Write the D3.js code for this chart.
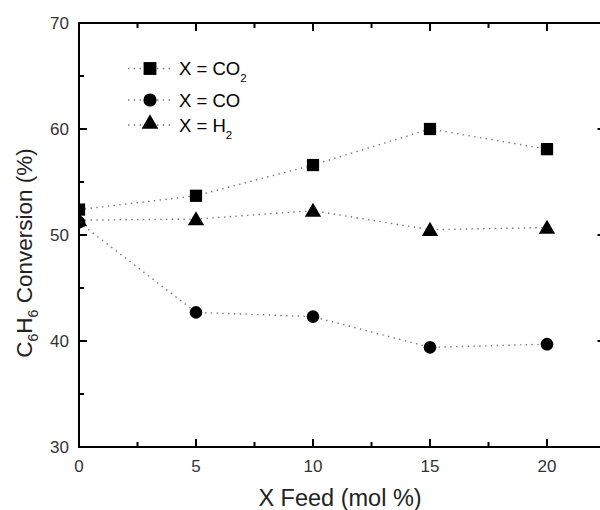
<!DOCTYPE html>
<html>
<head>
<meta charset="utf-8">
<script src="https://cdn.jsdelivr.net/npm/d3@7"></script>
<style>
  html, body { margin: 0; padding: 0; background: #fff; }
  svg { display: block; font-family: "Liberation Sans", Arial, sans-serif; }
</style>
</head>
<body>
<svg id="chart" width="600" height="510"></svg>
<script>
// Feed concentration of the added gas (mol %)
const feed = [0, 5, 10, 15, 20];
// Benzene conversion (%) for each co-feed gas
const convCO2 = [52.4, 53.7, 56.6, 60.0, 58.1];
const convCO  = [51.2, 42.7, 42.3, 39.4, 39.7];
const convH2  = [51.4, 51.5, 52.3, 50.5, 50.7];

const xTicks = [0, 5, 10, 15, 20];
const yTicks = [30, 40, 50, 60, 70];

const series = [
  { name: "CO", sub: "2", symbol: d3.symbolSquare,   values: convCO2 },
  { name: "CO", sub: "",  symbol: d3.symbolCircle,   values: convCO },
  { name: "H",  sub: "2", symbol: d3.symbolTriangle, values: convH2 }
];

const svg = d3.select("#chart");
const pLeft = 79, pRight = 605.5, pTop = 23, pBottom = 447;

const x = d3.scaleLinear().domain([0, 22.5]).range([pLeft, pRight]);
const y = d3.scaleLinear().domain([30, 70]).range([pBottom, pTop]);

svg.append("defs").append("clipPath").attr("id", "plotClip")
  .append("rect").attr("x", pLeft).attr("y", pTop)
  .attr("width", pRight - pLeft).attr("height", pBottom - pTop);

function symbolPath(sym, scale = 1) {
  const size = sym === d3.symbolSquare ? 150
             : sym === d3.symbolCircle ? 125 : 115;
  return d3.symbol().type(sym).size(size * scale)();
}

// Data lines and markers
const plot = svg.append("g").attr("clip-path", "url(#plotClip)");
const line = d3.line().x((d, i) => x(feed[i])).y(d => y(d));

series.forEach(s => {
  plot.append("path")
    .attr("d", line(s.values))
    .attr("fill", "none")
    .attr("stroke", "#777")
    .attr("stroke-width", 1.4)
    .attr("stroke-dasharray", "1.4 4.4");
});
series.forEach(s => {
  const dy = s.symbol === d3.symbolTriangle ? 1.5 : 0;
  plot.selectAll(null).data(s.values).enter().append("path")
    .attr("d", symbolPath(s.symbol))
    .attr("transform", (d, i) => `translate(${x(feed[i])},${y(d) + dy})`)
    .attr("fill", "#000");
});

// Axes: ticks point inward on all four sides
const minorX = d3.range(2.5, 22.5, 5);
const minorY = d3.range(35, 70, 10);

function tickSet(g, scale, ticks, len, orient) {
  ticks.forEach(t => {
    const p = scale(t);
    let x1, y1, x2, y2;
    if (orient === "bottom") { x1 = x2 = p; y1 = pBottom; y2 = pBottom - len; }
    if (orient === "top")    { x1 = x2 = p; y1 = pTop; y2 = pTop + len; }
    if (orient === "left")   { y1 = y2 = p; x1 = pLeft; x2 = pLeft + len; }
    if (orient === "right")  { y1 = y2 = p; x1 = pRight; x2 = pRight - len; }
    g.append("line").attr("x1", x1).attr("y1", y1).attr("x2", x2).attr("y2", y2)
      .attr("stroke", "#000").attr("stroke-width", 2);
  });
}

const axes = svg.append("g");
axes.append("rect").attr("x", pLeft).attr("y", pTop)
  .attr("width", pRight - pLeft).attr("height", pBottom - pTop)
  .attr("fill", "none").attr("stroke", "#000").attr("stroke-width", 2);

tickSet(axes, x, xTicks, 8, "bottom");
tickSet(axes, x, minorX, 5, "bottom");
tickSet(axes, x, xTicks, 8, "top");
tickSet(axes, x, minorX, 5, "top");
tickSet(axes, y, yTicks, 8, "left");
tickSet(axes, y, minorY, 5, "left");
tickSet(axes, y, yTicks, 8, "right");
tickSet(axes, y, minorY, 5, "right");

// Tick labels
axes.selectAll(null).data(xTicks).enter().append("text")
  .attr("x", d => x(d)).attr("y", 472)
  .attr("text-anchor", "middle")
  .attr("font-size", 17).attr("fill", "#333")
  .text(d => d);

axes.selectAll(null).data(yTicks).enter().append("text")
  .attr("x", 69).attr("y", d => y(d)).attr("dy", "0.36em")
  .attr("text-anchor", "end")
  .attr("font-size", 17).attr("fill", "#333")
  .text(d => d);

// Axis titles
svg.append("text")
  .attr("x", 340).attr("y", 506)
  .attr("text-anchor", "middle")
  .attr("font-size", 23.5).attr("fill", "#222")
  .text("X Feed (mol %)");

const yTitle = svg.append("text")
  .attr("transform", "translate(32,253) rotate(-90)")
  .attr("text-anchor", "middle")
  .attr("font-size", 22.5).attr("fill", "#222");
yTitle.append("tspan").text("C");
yTitle.append("tspan").attr("font-size", 14).attr("dy", 6).text("6");
yTitle.append("tspan").attr("dy", -6).text("H");
yTitle.append("tspan").attr("font-size", 14).attr("dy", 6).text("6");
yTitle.append("tspan").attr("dy", -6).text(" Conversion (%)");

// Legend
const legendRows = [68.5, 100, 125];
const legend = svg.append("g");
series.forEach((s, i) => {
  const ly = legendRows[i];
  legend.append("line")
    .attr("x1", 128).attr("x2", 173).attr("y1", ly).attr("y2", ly)
    .attr("stroke", "#777").attr("stroke-width", 1.4)
    .attr("stroke-dasharray", "1.4 4.4");
  const dy = s.symbol === d3.symbolTriangle ? -1 : 0;
  legend.append("path")
    .attr("d", symbolPath(s.symbol, s.symbol === d3.symbolTriangle ? 1.05 : 1.1))
    .attr("transform", `translate(150,${ly + dy})`)
    .attr("fill", "#000");
  const t = legend.append("text")
    .attr("x", 179).attr("y", ly).attr("dy", "0.36em")
    .attr("font-size", 18.5).attr("fill", "#000");
  t.append("tspan").text("X = " + s.name);
  if (s.sub) t.append("tspan").attr("font-size", 11.5).attr("dy", 7).text(s.sub);
});
</script>
</body>
</html>
